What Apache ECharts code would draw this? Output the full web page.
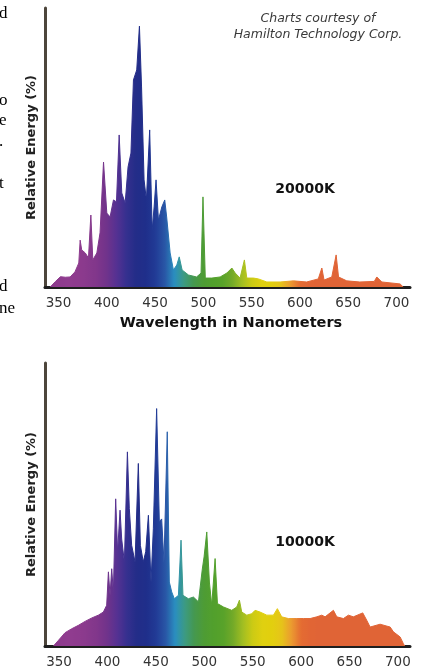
<!DOCTYPE html>
<html>
<head>
<meta charset="utf-8">
<script src="https://cdn.jsdelivr.net/npm/echarts@6/dist/echarts.min.js"></script>
<style>
html,body{margin:0;padding:0;background:#fff;}
#chart{width:422px;height:671px;}
</style>
</head>
<body>
<div id="chart"></div>
<script>
// ---- data (wavelength in nm, relative energy in %) ----
const wavelength20000 = [341.4, 346.6, 352, 357, 362, 367, 371, 372.4, 374, 377.7, 381, 383.5, 385.5, 389.7, 393, 396.6, 400, 403.4, 406.9, 410, 412.8, 415.5, 419, 422, 425, 427.6, 431, 433.8, 436, 438.6, 441, 444.4, 447, 449, 451, 453.5, 457, 460, 462, 465.6, 469, 472.5, 475, 478, 484.6, 493, 497.6, 499.6, 502, 508.8, 517.4, 524.3, 529.5, 533, 538, 542.5, 545, 551.9, 557, 565.7, 579.5, 593.3, 607, 619, 622.7, 625, 633, 637.5, 640, 648.5, 662, 677, 679.6, 684.8, 703.7, 707];
const energy20000 = [0, 1.9, 3.7, 3.5, 3.6, 5.4, 8.6, 16.8, 13.3, 12.2, 10.4, 25.8, 9.7, 12.2, 19.4, 44.8, 26.5, 25.1, 31.2, 30.5, 54.5, 33.7, 30.1, 43, 48, 74.2, 77.8, 93.5, 71.7, 38.4, 31.2, 56.3, 20.4, 28.7, 38.4, 24, 28.7, 31.2, 25.1, 12.2, 6.1, 7.9, 10.8, 6.1, 4.3, 3.6, 5, 32.3, 3.2, 3.2, 3.6, 5, 6.8, 5, 3.2, 9.7, 3.2, 3.2, 2.9, 1.8, 1.8, 2.2, 1.8, 2.9, 6.8, 2.5, 3.6, 11.5, 3.6, 2.2, 1.8, 2.0, 3.6, 1.8, 1.1, 0];

const wavelength10000 = [344.2, 349.4, 356.2, 363.1, 370, 376.9, 383.8, 390.6, 395.8, 399.2, 401, 402.7, 404.4, 406.1, 408.5, 410.5, 413, 414.7, 417.5, 420.6, 422.6, 425, 428.5, 431.9, 434, 437, 439.5, 442.3, 445, 447.4, 450.8, 453.6, 456, 458.4, 461.8, 463.9, 466.4, 469.1, 473.3, 476, 478, 483.6, 488.8, 494, 498, 499.8, 502.6, 505.3, 507.7, 511.2, 513.6, 519.8, 528.4, 533.6, 536.3, 538.7, 543.9, 549, 552.5, 557.6, 564.6, 571.4, 575.5, 580, 586.9, 595.6, 602.4, 609.3, 616.2, 621.4, 624.8, 633.4, 636.9, 643.7, 648.9, 654, 663.7, 667.8, 671.3, 681.6, 692, 695.4, 702.3, 705.7, 707];
const energy10000 = [0, 2.0, 4.7, 6.1, 7.3, 8.7, 9.9, 10.9, 12.0, 14.4, 26.2, 17.9, 27.3, 19.1, 52.0, 33.3, 48.0, 37.8, 29.7, 68.6, 48.5, 35.6, 29.7, 64.5, 35.6, 29.7, 33.3, 46.2, 22.6, 41.4, 83.9, 43.9, 44.9, 29.7, 75.7, 22.6, 19.1, 16.7, 17.9, 37.4, 17.9, 16.7, 17.3, 15.6, 27.2, 31.5, 40.3, 22.6, 14.4, 30.9, 15.0, 13.8, 12.6, 13.8, 16.2, 12.0, 10.9, 11.4, 12.6, 12.0, 10.9, 10.9, 13.2, 10.3, 9.7, 9.7, 9.7, 9.7, 10.3, 10.9, 10.3, 12.6, 10.3, 9.7, 10.9, 10.3, 11.7, 9.1, 6.7, 7.7, 6.7, 5.0, 3.2, 0.8, 0];

const tickLabels = [350, 400, 450, 500, 550, 600, 650, 700];
const labelTop = '20000K';
const labelBottom = '10000K';
const axisTitleX = 'Wavelength in Nanometers';
const axisTitleY = 'Relative Energy (%)';
const creditLines = ['Charts courtesy of', 'Hamilton Technology Corp.'];
const sideText = ['d', 'o', 'e', '.', 't', 'd', 'ne'];

// ---- styles ----
const spectrumColors = [
  '#8d3b8c','#8e3b8e','#903c8f','#8e3b8e','#88398c','#80368b','#70338b','#553192','#36308f','#232d88',
  '#1f2e8a','#213a95','#2956a6','#2a8fc0','#3c9a82','#45984e','#4e9c34','#52a02c','#58a22a','#74aa28',
  '#a2be22','#cccb14','#dfd010','#e2cf0e','#e6c41a','#eb9b30','#e46c32','#e16535','#e06436','#e06436',
  '#e06436','#e06436','#e06436','#e06436','#e06436','#e06436','#e06436','#e06436'
];
const sideY = [15, 102, 122, 143, 185, 288, 310];

const chart = echarts.init(document.getElementById('chart'), null, {renderer: 'canvas'});

function zip(a, b) { return a.map((v, i) => [v, b[i]]); }

const xAxisBase = {
  type: 'value',
  axisLine: {show: true, onZero: false, lineStyle: {color: '#1e1e1e', width: 3}},
  axisTick: {show: false},
  splitLine: {show: false},
  axisLabel: {
    customValues: tickLabels,
    color: '#333',
    fontFamily: 'DejaVu Sans',
    fontSize: 13.5,
    margin: 9
  }
};
const yAxisBase = {
  type: 'value',
  min: 0, max: 100,
  axisLine: {show: true, onZero: false, lineStyle: {color: '#4d463c', width: 3}},
  axisTick: {show: false},
  splitLine: {show: false},
  axisLabel: {show: false},
  name: axisTitleY,
  nameLocation: 'middle',
  nameRotate: 90,
  nameGap: 7,
  nameTextStyle: {fontFamily: 'DejaVu Sans', fontWeight: 'bold', fontSize: 13, color: '#222'}
};

const graphics = [];
sideText.forEach((t, i) => {
  graphics.push({type: 'text', left: -1, top: sideY[i] - 10, style: {text: t, font: '17px "Liberation Serif"', fill: '#000'}});
});
graphics.push({type: 'text', x: 318, y: 19, style: {text: creditLines[0], font: 'italic 12.5px "DejaVu Sans"', fill: '#3a3a3a', align: 'center', verticalAlign: 'middle'}});
graphics.push({type: 'text', x: 318, y: 35, style: {text: creditLines[1], font: 'italic 12.5px "DejaVu Sans"', fill: '#3a3a3a', align: 'center', verticalAlign: 'middle'}});
graphics.push({type: 'text', x: 305, y: 189, style: {text: labelTop, font: 'bold 14px "DejaVu Sans"', fill: '#111', align: 'center', verticalAlign: 'middle'}});
graphics.push({type: 'text', x: 305, y: 542, style: {text: labelBottom, font: 'bold 14px "DejaVu Sans"', fill: '#111', align: 'center', verticalAlign: 'middle'}});

const option = {
  animation: false,
  backgroundColor: '#fff',
  grid: [
    {left: 45, right: 12, top: 8, bottom: 384},
    {left: 45, right: 12, top: 363, bottom: 25}
  ],
  xAxis: [
    Object.assign({}, xAxisBase, {gridIndex: 0, min: 336, max: 714,
      name: axisTitleX, nameLocation: 'middle', nameGap: 29,
      nameTextStyle: {fontFamily: 'DejaVu Sans', fontWeight: 'bold', fontSize: 14.5, color: '#111', padding: [0, 0, 0, 7]}}),
    Object.assign({}, xAxisBase, {gridIndex: 1, min: 335.5, max: 712.5})
  ],
  yAxis: [
    Object.assign({}, yAxisBase, {gridIndex: 0}),
    Object.assign({}, yAxisBase, {gridIndex: 1})
  ],
  visualMap: [
    {type: 'continuous', show: false, seriesIndex: 0, dimension: 0, min: 340, max: 710, inRange: {color: spectrumColors}},
    {type: 'continuous', show: false, seriesIndex: 1, dimension: 0, min: 340, max: 710, inRange: {color: spectrumColors}}
  ],
  series: [
    {type: 'line', xAxisIndex: 0, yAxisIndex: 0, data: zip(wavelength20000, energy20000),
      showSymbol: false, symbol: 'none', lineStyle: {width: 1}, areaStyle: {opacity: 1}, z: 1},
    {type: 'line', xAxisIndex: 1, yAxisIndex: 1, data: zip(wavelength10000, energy10000),
      showSymbol: false, symbol: 'none', lineStyle: {width: 1}, areaStyle: {opacity: 1}, z: 1}
  ],
  graphic: graphics
};
chart.setOption(option);
</script>
</body>
</html>
